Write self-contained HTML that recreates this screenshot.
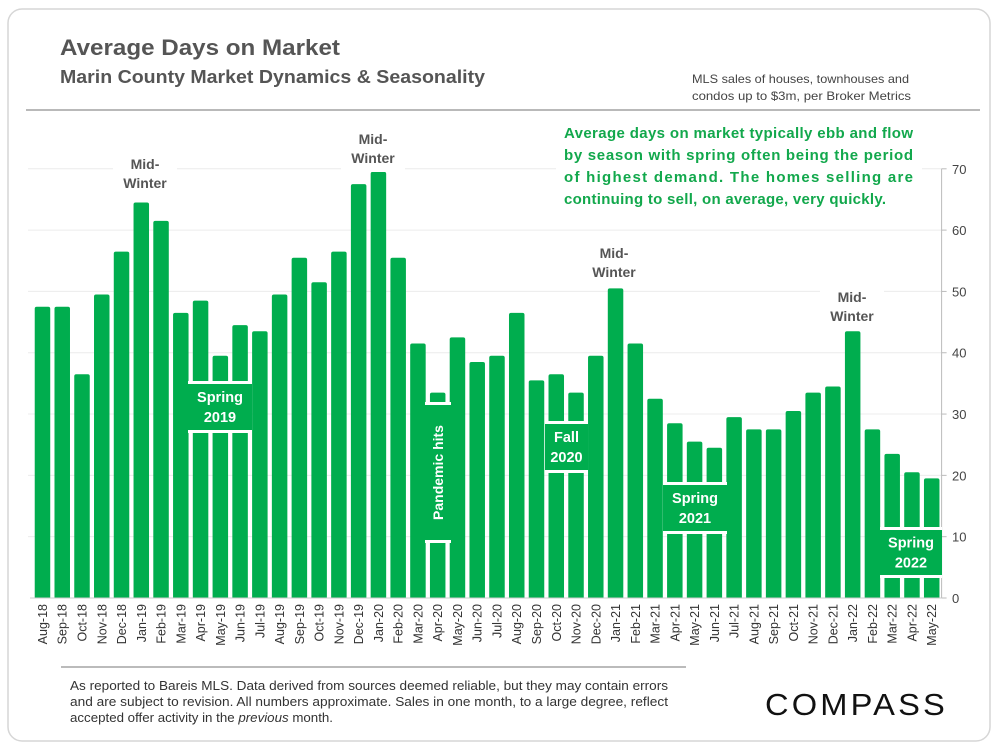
<!DOCTYPE html>
<html><head><meta charset="utf-8">
<style>
html,body{margin:0;padding:0;background:#fff;}
body{width:1000px;height:750px;overflow:hidden;font-family:"Liberation Sans",sans-serif;}
</style></head>
<body>
<svg id="chart" width="1000" height="750" viewBox="0 0 1000 750" xmlns="http://www.w3.org/2000/svg" font-family="Liberation Sans, sans-serif">
  <rect x="8" y="9" width="982" height="732" rx="14" fill="#fff" stroke="#d6d6d6" stroke-width="1.5"/>
  <text x="60" y="55" font-size="22" font-weight="bold" fill="#555" textLength="280" lengthAdjust="spacingAndGlyphs">Average Days on Market</text>
  <text x="60" y="83" font-size="18" font-weight="bold" fill="#555" textLength="425" lengthAdjust="spacingAndGlyphs">Marin County Market Dynamics &amp; Seasonality</text>
  <text x="692" y="83" font-size="12" fill="#444" textLength="217" lengthAdjust="spacingAndGlyphs">MLS sales of houses, townhouses and</text>
  <text x="692" y="100" font-size="12" fill="#444" textLength="219" lengthAdjust="spacingAndGlyphs">condos up to $3m, per Broker Metrics</text>
  <line x1="26" y1="110" x2="980" y2="110" stroke="#b9b9b9" stroke-width="2"/>
  <g id="grid"></g>
  <g id="bars"></g>
  <g id="yaxis"></g>
  <g id="xaxis"></g>
  <g id="annot"></g>
  <rect x="556" y="120" width="366" height="90" fill="#fff"/>
  <text font-size="15" font-weight="bold" fill="#12a84c">
    <tspan x="564" y="138" textLength="349" lengthAdjust="spacing">Average days on market typically ebb and flow</tspan>
    <tspan x="564" y="160" textLength="349" lengthAdjust="spacing">by season with spring often being the period</tspan>
    <tspan x="564" y="182" textLength="349" lengthAdjust="spacing">of highest demand. The homes selling are</tspan>
    <tspan x="564" y="204" textLength="322" lengthAdjust="spacing">continuing to sell, on average, very quickly.</tspan>
  </text>
  <line x1="61" y1="667" x2="686" y2="667" stroke="#bbb" stroke-width="2"/>
  <text x="70" y="690" font-size="12.5" fill="#333" textLength="598" lengthAdjust="spacingAndGlyphs">As reported to Bareis MLS. Data derived from sources deemed reliable, but they may contain errors</text>
  <text x="70" y="706" font-size="12.5" fill="#333" textLength="598" lengthAdjust="spacingAndGlyphs">and are subject to revision. All numbers approximate. Sales in one month, to a large degree, reflect</text>
  <text x="70" y="722" font-size="12.5" fill="#333" textLength="263" lengthAdjust="spacingAndGlyphs">accepted offer activity in the <tspan font-style="italic">previous</tspan> month.</text>
  <text x="765" y="715" font-size="31" fill="#111" letter-spacing="3" textLength="183" lengthAdjust="spacingAndGlyphs">COMPASS</text>
</svg>
<script>
const categories = ["Aug-18","Sep-18","Oct-18","Nov-18","Dec-18","Jan-19","Feb-19","Mar-19","Apr-19","May-19","Jun-19","Jul-19","Aug-19","Sep-19","Oct-19","Nov-19","Dec-19","Jan-20","Feb-20","Mar-20","Apr-20","May-20","Jun-20","Jul-20","Aug-20","Sep-20","Oct-20","Nov-20","Dec-20","Jan-21","Feb-21","Mar-21","Apr-21","May-21","Jun-21","Jul-21","Aug-21","Sep-21","Oct-21","Nov-21","Dec-21","Jan-22","Feb-22","Mar-22","Apr-22","May-22"];
const daysOnMarket = [47.5,47.5,36.5,49.5,56.5,64.5,61.5,46.5,48.5,39.5,44.5,43.5,49.5,55.5,51.5,56.5,67.5,69.5,55.5,41.5,33.5,42.5,38.5,39.5,46.5,35.5,36.5,33.5,39.5,50.5,41.5,32.5,28.5,25.5,24.5,29.5,27.5,27.5,30.5,33.5,34.5,43.5,27.5,23.5,20.5,19.5];
const yTicks = [0,10,20,30,40,50,60,70];

const NS = "http://www.w3.org/2000/svg";
const X0 = 32.6, X1 = 941.6, Y0 = 598, YMAX = 70, YTOP = 168.8;
const band = (X1 - X0) / categories.length;
const xc = i => X0 + band * (i + 0.5);
const y = v => Y0 - (v / YMAX) * (Y0 - YTOP);
function mk(tag, attrs, parent) {
  const e = document.createElementNS(NS, tag);
  for (const k in attrs) e.setAttribute(k, attrs[k]);
  parent.appendChild(e);
  return e;
}
const grid = document.getElementById('grid'), bars = document.getElementById('bars'),
      yaxis = document.getElementById('yaxis'), xaxis = document.getElementById('xaxis'),
      annot = document.getElementById('annot');

yTicks.forEach(t => {
  if (t > 0) {
    const g = mk('line', {x1: 28, x2: X1, y1: y(t), y2: y(t), stroke: '#ececec', 'stroke-width': 1}, grid);
    
    
  }
  const tk = mk('line', {x1: X1, x2: X1 + 5, y1: y(t), y2: y(t), stroke: '#bbb'}, yaxis);
  
  
  const lb = mk('text', {x: 952, y: y(t) + 5, 'font-size': 13, fill: '#444'}, yaxis);
  lb.textContent = t;
  
  
});
const ax = mk('line', {x1: X1, x2: X1, y1: YTOP, y2: Y0, stroke: '#bbb'}, yaxis);



const bw = 15.5;
daysOnMarket.forEach((v, i) => {
  const top = y(v);
  const r = mk('path', {d: `M${xc(i)-bw/2},${Y0} V${top+2} Q${xc(i)-bw/2},${top} ${xc(i)-bw/2+2},${top} H${xc(i)+bw/2-2} Q${xc(i)+bw/2},${top} ${xc(i)+bw/2},${top+2} V${Y0} Z`, fill: '#00ad4e'}, bars);
  
  
});
const base = mk('line', {x1: 30, x2: X1, y1: Y0, y2: Y0, stroke: '#ccc'}, xaxis);


categories.forEach((c, i) => {
  const t = mk('text', {x: 0, y: 0, 'font-size': 12.5, fill: '#333', 'text-anchor': 'end', transform: `translate(${xc(i)+4.5},604) rotate(-90)`}, xaxis);
  t.textContent = c;
  
  
});

function box(name, x1, y1, x2, y2, lines, rotate) {
  const g = mk('g', {}, annot);
  
  
  mk('rect', {x: x1, y: y1 - 3, width: x2 - x1, height: y2 - y1 + 6, fill: '#fff'}, g);
  mk('rect', {x: x1, y: y1, width: x2 - x1, height: y2 - y1, fill: '#00ad4e'}, g);
  const cx = (x1 + x2) / 2, cy = (y1 + y2) / 2;
  if (rotate) {
    const t = mk('text', {x: 0, y: 0, 'font-size': 14, 'font-weight': 'bold', fill: '#fff', 'text-anchor': 'middle', transform: `translate(${cx+5},${cy}) rotate(-90)`}, g);
    t.textContent = lines[0];
  } else {
    lines.forEach((l, k) => {
      const t = mk('text', {x: cx, y: cy + 5 + (k - (lines.length - 1) / 2) * 20, 'font-size': 14.5, 'font-weight': 'bold', fill: '#fff', 'text-anchor': 'middle'}, g);
      t.textContent = l;
    });
  }
}
box('spring-2019-label', 188, 384, 252, 430, ['Spring', '2019']);
box('pandemic-hits-label', 425, 405, 451, 540, ['Pandemic hits'], true);
box('fall-2020-label', 545, 424, 588, 470, ['Fall', '2020']);
box('spring-2021-label', 663, 485, 727, 531, ['Spring', '2021']);
box('spring-2022-label', 880, 530, 942, 575, ['Spring', '2022']);

function winterLabel(name, cx, ytop) {
  const bg = mk('rect', {x: cx - 32, y: ytop - 16, width: 64, height: 44, fill: '#fff'}, annot);
  
  
  const t1 = mk('text', {x: cx, y: ytop, 'font-size': 14, 'font-weight': 'bold', fill: '#555', 'text-anchor': 'middle'}, annot);
  t1.textContent = 'Mid-';
  
  
  const t2 = mk('text', {x: cx, y: ytop + 19, 'font-size': 14, 'font-weight': 'bold', fill: '#555', 'text-anchor': 'middle'}, annot);
  t2.textContent = 'Winter';
  
  
}
winterLabel('mid-winter-2019', 145, 169);
winterLabel('mid-winter-2020', 373, 144);
winterLabel('mid-winter-2021', 614, 258);
winterLabel('mid-winter-2022', 852, 302);
</script>
</body></html>
